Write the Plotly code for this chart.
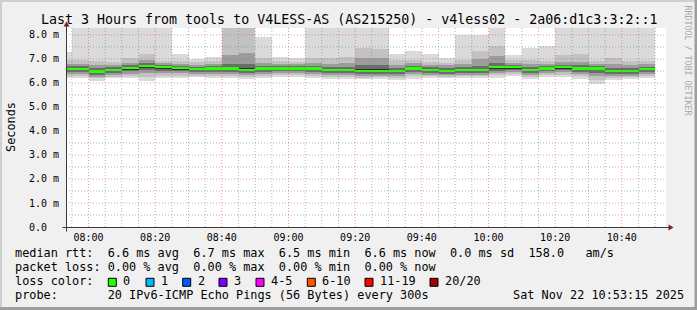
import plotly.graph_objects as go
import pandas as pd

# ---------------- data ----------------
DAY = "2025-11-22 "
step_times = ["07:50", "07:55", "08:00", "08:05", "08:10", "08:15", "08:20", "08:25",
              "08:30", "08:35", "08:40", "08:45", "08:50", "08:55", "09:00", "09:05",
              "09:10", "09:15", "09:20", "09:25", "09:30", "09:35", "09:40", "09:45",
              "09:50", "09:55", "10:00", "10:05", "10:10", "10:15", "10:20", "10:25",
              "10:30", "10:35", "10:40", "10:45"]
# median rtt per 5-min step (ms)
median = [6.57, 6.57, 6.48, 6.53, 6.61, 6.69, 6.65, 6.61, 6.57, 6.60, 6.60, 6.55,
          6.60, 6.60, 6.60, 6.60, 6.54, 6.54, 6.51, 6.51, 6.51, 6.60, 6.54, 6.51,
          6.55, 6.55, 6.65, 6.65, 6.53, 6.60, 6.65, 6.60, 6.60, 6.51, 6.51, 6.57]
# smoke envelope (ms): outermost to innermost band limits
ping_max = [7.28, 9.0, 9.0, 9.0, 9.0, 9.0, 9.0, 7.22, 7.00, 7.07, 9.0, 9.0,
            7.90, 7.10, 7.03, 9.0, 9.0, 9.0, 9.0, 9.0, 7.22, 7.34, 7.22, 7.05,
            8.00, 8.00, 9.0, 7.16, 7.44, 7.55, 9.0, 9.0, 9.0, 9.0, 9.0, 9.0]
hi2 = [6.95, 6.95, 6.93, 6.88, 7.03, 7.19, 6.92, 6.92, 6.86, 6.90, 9.0, 9.0,
       7.05, 6.90, 6.88, 7.03, 7.03, 7.10, 7.44, 7.40, 6.95, 6.97, 6.88, 6.85,
       6.95, 7.34, 7.55, 6.96, 6.96, 6.93, 7.15, 7.22, 6.92, 7.05, 6.93, 6.93]
hi3 = [6.80, 6.80, 6.76, 6.75, 6.84, 6.95, 6.83, 6.80, 6.76, 6.79, 7.17, 7.23,
       6.82, 6.79, 6.78, 6.84, 6.80, 6.83, 7.05, 7.02, 6.76, 6.82, 6.75, 6.73,
       6.79, 6.98, 7.12, 6.84, 6.78, 6.80, 6.87, 6.88, 6.80, 6.78, 6.76, 6.78]
hi4 = [6.70, 6.70, 6.62, 6.66, 6.73, 6.83, 6.75, 6.72, 6.68, 6.71, 6.80, 6.78,
       6.71, 6.70, 6.70, 6.72, 6.66, 6.68, 6.75, 6.74, 6.64, 6.71, 6.65, 6.62,
       6.67, 6.72, 6.82, 6.75, 6.65, 6.71, 6.76, 6.74, 6.72, 6.64, 6.64, 6.68]
hi5 = [6.62, 6.62, 6.53, 6.58, 6.66, 6.75, 6.70, 6.66, 6.62, 6.65, 6.67, 6.62,
       6.65, 6.65, 6.65, 6.65, 6.59, 6.59, 6.57, 6.57, 6.56, 6.65, 6.59, 6.56,
       6.60, 6.60, 6.70, 6.70, 6.58, 6.65, 6.70, 6.65, 6.65, 6.56, 6.56, 6.62]
lo5 = [6.52, 6.52, 6.43, 6.48, 6.56, 6.63, 6.60, 6.56, 6.52, 6.55, 6.54, 6.49,
       6.55, 6.55, 6.55, 6.55, 6.49, 6.49, 6.46, 6.46, 6.46, 6.55, 6.49, 6.46,
       6.50, 6.50, 6.60, 6.60, 6.48, 6.55, 6.60, 6.54, 6.53, 6.45, 6.46, 6.52]
lo4 = [6.45, 6.45, 6.35, 6.40, 6.48, 6.52, 6.50, 6.48, 6.45, 6.47, 6.46, 6.41,
       6.47, 6.48, 6.48, 6.47, 6.41, 6.40, 6.38, 6.38, 6.38, 6.46, 6.42, 6.39,
       6.42, 6.42, 6.51, 6.52, 6.40, 6.48, 6.52, 6.45, 6.40, 6.36, 6.38, 6.44]
lo3 = [6.36, 6.36, 6.26, 6.32, 6.39, 6.40, 6.40, 6.40, 6.38, 6.39, 6.38, 6.34,
       6.39, 6.41, 6.42, 6.39, 6.33, 6.32, 6.30, 6.30, 6.30, 6.37, 6.35, 6.33,
       6.35, 6.35, 6.42, 6.45, 6.32, 6.41, 6.44, 6.36, 6.28, 6.28, 6.31, 6.37]
lo2 = [6.28, 6.28, 6.20, 6.25, 6.30, 6.26, 6.30, 6.31, 6.31, 6.31, 6.30, 6.26,
       6.31, 6.33, 6.34, 6.31, 6.26, 6.24, 6.22, 6.23, 6.21, 6.27, 6.28, 6.26,
       6.27, 6.28, 6.33, 6.37, 6.24, 6.33, 6.35, 6.27, 6.14, 6.20, 6.24, 6.29]
ping_min = [6.19, 6.19, 6.10, 6.19, 6.21, 6.10, 6.19, 6.21, 6.24, 6.22, 6.21, 6.17,
            6.22, 6.24, 6.26, 6.22, 6.18, 6.15, 6.15, 6.16, 6.13, 6.15, 6.20, 6.19,
            6.20, 6.21, 6.22, 6.27, 6.15, 6.24, 6.26, 6.17, 5.96, 6.13, 6.17, 6.21]

y_tick_vals = [0, 1, 2, 3, 4, 5, 6, 7, 8]
y_tick_text = ["0.0  ", "1.0 m", "2.0 m", "3.0 m", "4.0 m", "5.0 m", "6.0 m", "7.0 m", "8.0 m"]

title_text = "Last 3 Hours from tools to V4LESS-AS (AS215250) - v4less02 - 2a06:d1c3:3:2::1"
rtt_stats = ["6.6", "6.7", "6.5", "6.6", "0.0", "158.0"]
loss_stats = ["0.00", "0.00", "0.00", "0.00"]
loss_labels = ["0", "1", "2", "3", "4-5", "6-10", "11-19", "20/20"]
loss_colors = ["#26ff00", "#00b8ff", "#0059ff", "#7e00ff", "#ff00ff", "#ff5500", "#ff0000", "#a10000"]
probe_text = "20 IPv6-ICMP Echo Pings (56 Bytes) every 300s"
date_text = "Sat Nov 22 10:53:15 2025"

# ---------------- layout constants ----------------
W, H = 697, 310
ML, MR, MT, MB = 66, 31, 28, 83
PW, PH = W - ML - MR, H - MT - MB
MONO = "DejaVu Sans Mono"
LEG_SIZE = 11.85
AX_SIZE = 10
STEP_MS = 300000
MED_H = 0.09


def fx(px):
    return (px - ML) / PW


def fy(py):
    return (H - MB - py) / PH


def nb(s):
    return s.replace(" ", "\u00a0")


centers = [pd.Timestamp(DAY + t) + pd.Timedelta(seconds=150) for t in step_times]

fig = go.Figure()
bands = [
    (ping_min, ping_max, "#dadada"),
    (lo2, hi2, "#c2c2c2"),
    (lo3, hi3, "#9c9c9c"),
    (lo4, hi4, "#6c6c6c"),
    (lo5, hi5, "#303030"),
]
for lo, hi, col in bands:
    fig.add_trace(go.Bar(x=centers, base=lo, y=[h - l for l, h in zip(lo, hi)],
                         width=STEP_MS, marker=dict(color=col, line=dict(width=0)),
                         hoverinfo="skip", showlegend=False))
fig.add_trace(go.Bar(x=centers, base=[m - MED_H / 2 for m in median], y=[MED_H] * len(median),
                     width=STEP_MS, marker=dict(color=loss_colors[0], line=dict(width=0)),
                     hoverinfo="skip", showlegend=False))

shapes = []
MAJ = "rgba(222,81,81,0.6)"
MIN = "rgba(130,130,130,0.6)"
# grid (drawn above the smoke like rrdtool)
for i in range(1, 17):
    v = i * 0.5
    major = (i % 2 == 0)
    shapes.append(dict(type="line", xref="paper", yref="y", x0=0, x1=1, y0=v, y1=v, layer="above",
                       line=dict(color=MAJ if major else MIN, width=1, dash="1px,2px")))
grid_times = pd.date_range(DAY + "07:55", DAY + "10:50", freq="5min")
for t in grid_times:
    major = (t.minute % 20 == 0)
    shapes.append(dict(type="line", xref="x", yref="paper", x0=t, x1=t, y0=0, y1=1, layer="above",
                       line=dict(color=MAJ if major else MIN, width=1, dash="1px,2px")))

# frame shading
shapes += [
    dict(type="rect", xref="paper", yref="paper", x0=fx(0), x1=fx(W), y0=fy(0), y1=fy(2),
         fillcolor="#cfcfcf", line=dict(width=0), layer="above"),
    dict(type="rect", xref="paper", yref="paper", x0=fx(0), x1=fx(2), y0=fy(0), y1=fy(H),
         fillcolor="#cfcfcf", line=dict(width=0), layer="above"),
    dict(type="rect", xref="paper", yref="paper", x0=fx(0), x1=fx(W), y0=fy(H - 3), y1=fy(H),
         fillcolor="#9e9e9e", line=dict(width=0), layer="above"),
    dict(type="rect", xref="paper", yref="paper", x0=fx(W - 2.5), x1=fx(W), y0=fy(0), y1=fy(H),
         fillcolor="#9e9e9e", line=dict(width=0), layer="above"),
]

# axes with arrows
xo, yo = ML + 0.5, H - MB + 0.5
AXC = "#3a3a3a"
shapes += [
    dict(type="line", xref="paper", yref="paper", x0=fx(xo - 4), x1=fx(xo + PW + 4), y0=fy(yo), y1=fy(yo),
         line=dict(color=AXC, width=1), layer="above"),
    dict(type="line", xref="paper", yref="paper", x0=fx(xo), x1=fx(xo), y0=fy(yo + 4), y1=fy(yo - PH - 4),
         line=dict(color=AXC, width=1), layer="above"),
    dict(type="path", xref="paper", yref="paper", layer="above", fillcolor="#7f1f1f", line=dict(width=0),
         path=f"M {fx(xo + PW + 2)} {fy(yo - 3)} L {fx(xo + PW + 2)} {fy(yo + 3)} L {fx(xo + PW + 7)} {fy(yo)} Z"),
    dict(type="path", xref="paper", yref="paper", layer="above", fillcolor="#7f1f1f", line=dict(width=0),
         path=f"M {fx(xo - 3)} {fy(yo - PH - 2)} L {fx(xo + 3)} {fy(yo - PH - 2)} L {fx(xo)} {fy(yo - PH - 7)} Z"),
]

# loss colour boxes
loss_box_px = [108.3, 146, 182.7, 219, 256, 307.3, 365, 430]
for bx, col in zip(loss_box_px, loss_colors):
    shapes.append(dict(type="rect", xref="paper", yref="paper", x0=fx(bx), x1=fx(bx + 8),
                       y0=fy(278.3), y1=fy(286.3), fillcolor=col, line=dict(color="black", width=1),
                       layer="above"))

annotations = []


def text(px, py, s, size=LEG_SIZE, anchor="left", color="black", angle=0):
    annotations.append(dict(xref="paper", yref="paper", x=fx(px), y=fy(py), text=nb(s),
                            showarrow=False, xanchor=anchor, yanchor="middle", textangle=angle,
                            borderpad=0, borderwidth=0,
                            font=dict(family=MONO, size=size, color=color)))


text(348.5, 19.2, title_text, size=13.3, anchor="center")
line1 = ("median rtt:  {0} ms avg  {1} ms max  {2} ms min  {3} ms now  {4} ms sd  {5}   am/s"
         .format(*rtt_stats))
line2 = "packet loss: {0} % avg  {1} % max  {2} % min  {3} % now".format(*loss_stats)
text(15.4, 253.2, line1)
text(15.4, 266.9, line2)
text(15.4, 280.9, "loss color:")
for bx, lab in zip(loss_box_px, loss_labels):
    text(bx + 15.0, 280.9, lab)
text(15.4, 294.9, "probe:       " + probe_text)
text(512.6, 294.9, date_text)
text(11, 127, "Seconds", angle=-90, anchor="center")
text(687.5, 60, "RRDTOOL / TOBI OETIKER", size=8.3, anchor="center", color="#a8a8a8", angle=90)

fig.update_layout(
    width=W, height=H,
    margin=dict(l=ML, r=MR, t=MT, b=MB, pad=0),
    paper_bgcolor="#f0f0f0", plot_bgcolor="#ffffff",
    barmode="overlay", bargap=0, showlegend=False,
    shapes=shapes, annotations=annotations,
    xaxis=dict(type="date", range=[DAY + "07:53:15", DAY + "10:53:15"],
               tick0=DAY + "08:00", dtick=20 * 60 * 1000, tickformat="%H:%M",
               showgrid=False, zeroline=False, showline=False, ticks="",
               ticklabelstandoff=3,
               tickfont=dict(family=MONO, size=AX_SIZE, color="black"), fixedrange=True),
    yaxis=dict(range=[0, 8.29], tickvals=y_tick_vals, ticktext=[nb(t) for t in y_tick_text],
               showgrid=False, zeroline=False, showline=False, ticks="",
               ticklabelstandoff=6,
               tickfont=dict(family=MONO, size=AX_SIZE, color="black"), fixedrange=True),
)

fig.write_html("out.html")
